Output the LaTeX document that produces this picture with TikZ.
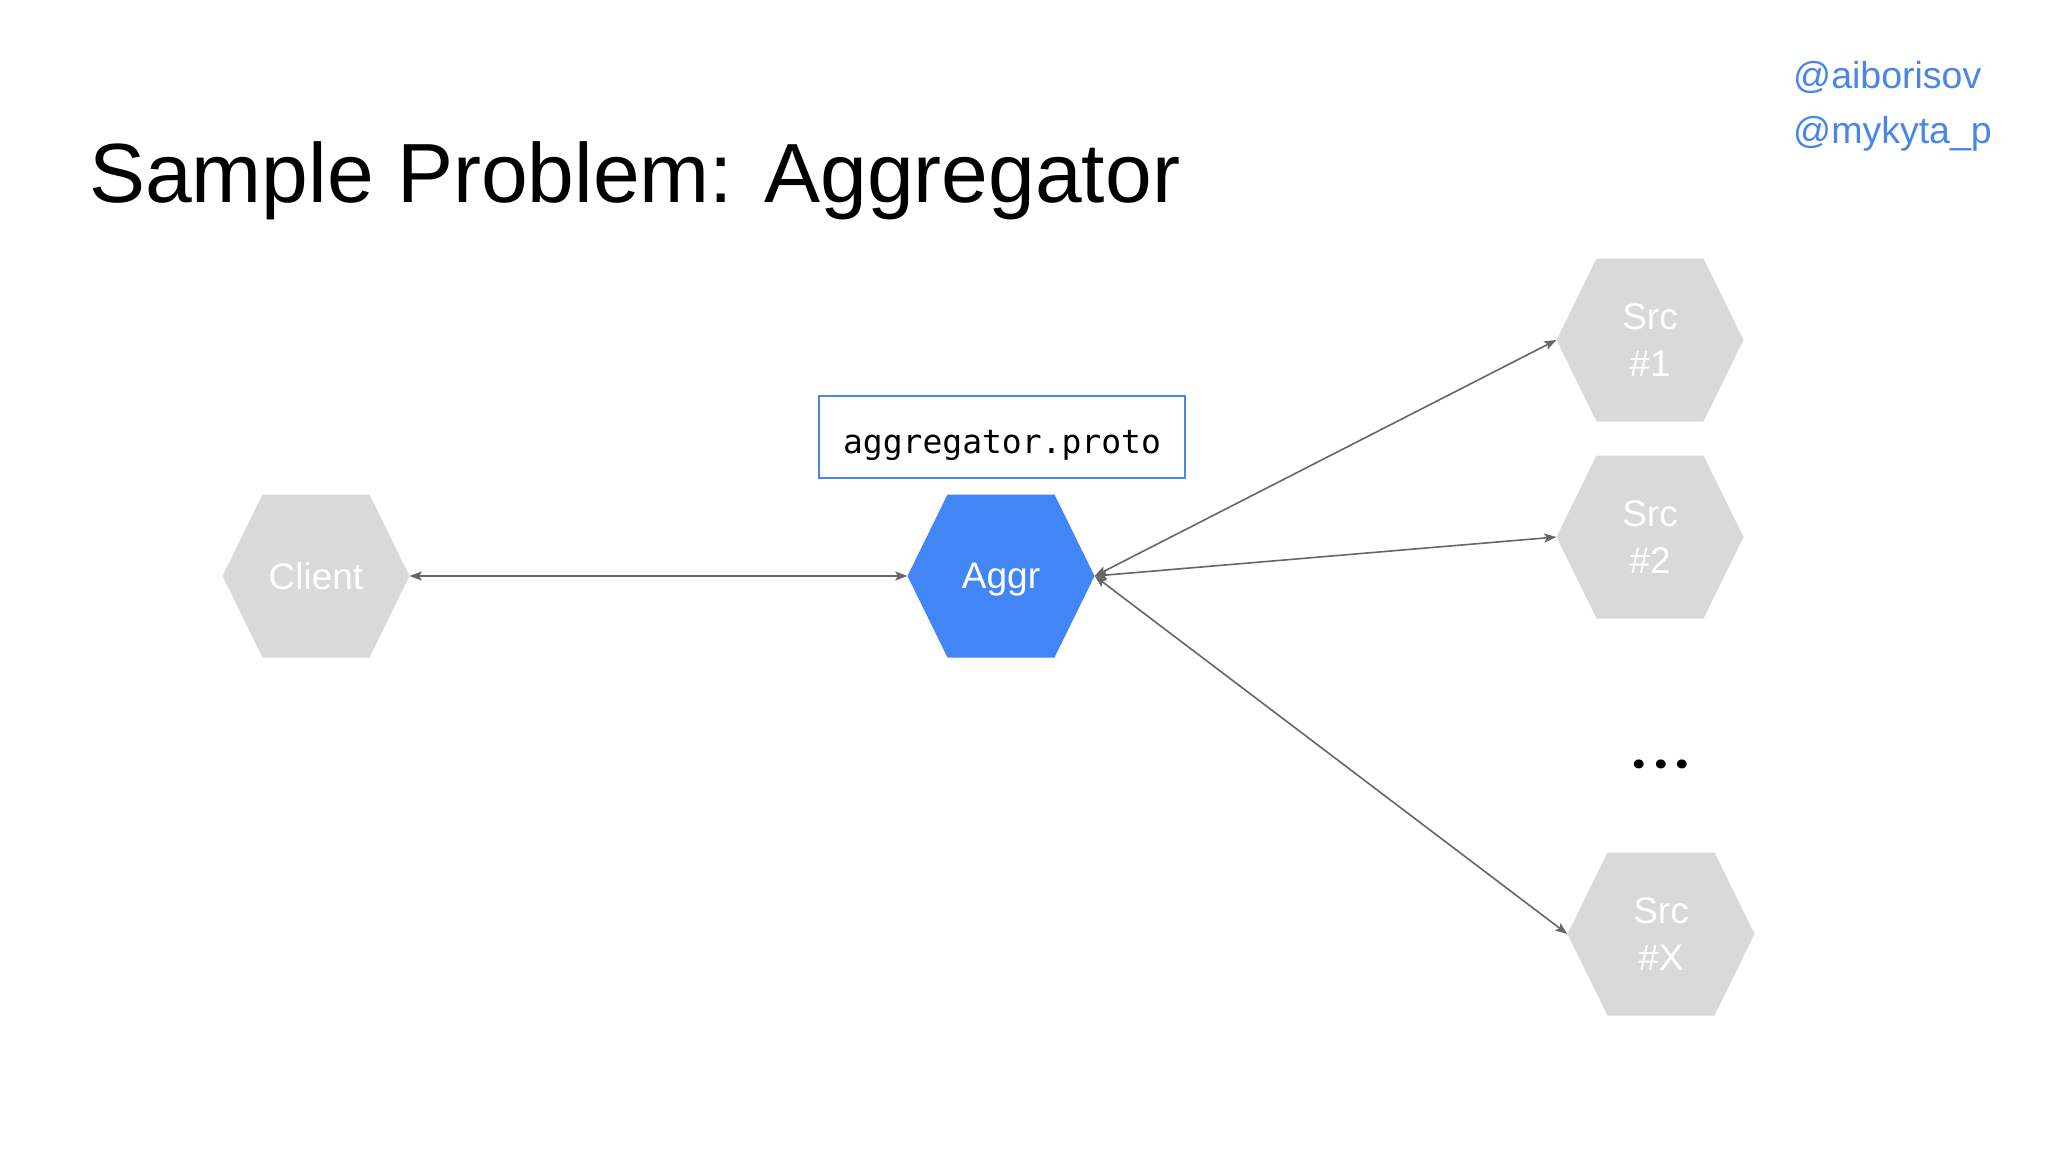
\documentclass[tikz,border=0pt]{standalone}
\usepackage{fontspec}
\setmainfont{Liberation Sans}
\setmonofont{DejaVu Sans Mono}
\newfontfamily\dotfont{Poppins}
\usetikzlibrary{arrows.meta}
\definecolor{gblue}{HTML}{4285F4}
\definecolor{hblue}{HTML}{4A86E8}
\definecolor{hexgray}{HTML}{D9D9D9}
\definecolor{linegray}{HTML}{666666}
\tikzset{
  hexnode/.style={rectangle, inner sep=0pt, minimum width=187pt, minimum height=163pt,
    text=white, align=center, font=\fontsize{37}{47}\selectfont,
    path picture={\fill[#1] (path picture bounding box.west)
      -- ([xshift=-53.5pt]path picture bounding box.north)
      -- ([xshift=53.5pt]path picture bounding box.north)
      -- (path picture bounding box.east)
      -- ([xshift=53.5pt]path picture bounding box.south)
      -- ([xshift=-53.5pt]path picture bounding box.south) -- cycle;}},
  conn/.style={draw=linegray, line width=1.6pt,
    arrows={Stealth[length=12pt,width=9pt,inset=2.5pt]-Stealth[length=12pt,width=9pt,inset=2.5pt]}},
  handle/.style={anchor=base west, inner sep=0pt, text=hblue, font=\fontsize{37.5}{42}\selectfont},
}
\begin{document}
\begin{tikzpicture}[x=1pt,y=-1pt]
\fill[white] (0,0) rectangle (2048,1152);
\useasboundingbox (0,0) rectangle (2048,1152);
\node[anchor=base west, inner sep=0pt, font=\fontsize{84}{100}\selectfont] (title) at (89,202) {Sample Problem: Aggregator};
\node[handle] (h1) at (1793,88) {@aiborisov};
\node[handle] (h2) at (1793,143) {@mykyta\_p};
\node[hexnode=hexgray] (client) at (316,576) {Client};
\node[hexnode=gblue, text depth=0pt] (aggr) at (1001,576) {Aggr};
\node[hexnode=hexgray] (src1) at (1650,340) {Src\\\#1};
\node[hexnode=hexgray] (src2) at (1650,537) {Src\\\#2};
\node[hexnode=hexgray] (srcx) at (1661,934) {Src\\\#X};
\node[anchor=base, inner sep=0pt, font=\dotfont\bfseries\fontsize{48}{50}\selectfont] (dots) at (1661,768) {.\kern8pt.\kern8pt.};
\node[draw=hblue, line width=2pt, fill=white, minimum width=366pt, minimum height=82pt, inner sep=0pt,
  text height=33pt, text depth=0pt, font=\ttfamily\fontsize{33}{40}\selectfont] (proto) at (1002,437) {aggregator.proto};
\draw[conn] (client.east) -- (aggr.west);
\draw[conn] (aggr.east) -- (src1.west);
\draw[conn] (aggr.east) -- (src2.west);
\draw[conn] (aggr.east) -- (srcx.west);
\end{tikzpicture}
\end{document}
